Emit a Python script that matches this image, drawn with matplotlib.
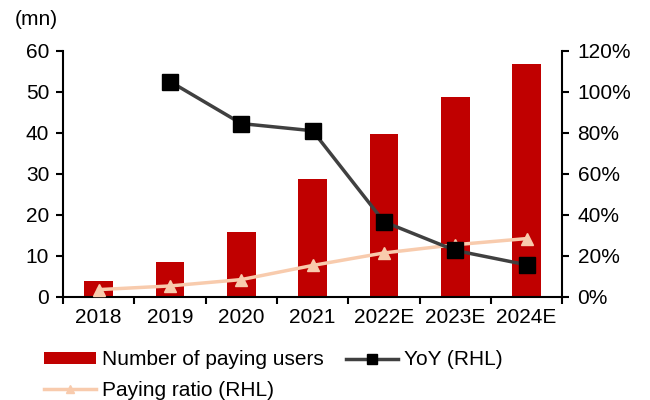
import matplotlib
matplotlib.use("Agg")
import matplotlib.pyplot as plt
import numpy as np
from matplotlib.ticker import FuncFormatter

plt.rcParams['font.family'] = ['Liberation Sans', 'DejaVu Sans']
plt.rcParams['font.size'] = 15

years = ['2018', '2019', '2020', '2021', '2022E', '2023E', '2024E']
paying_users = [3.9, 8.5, 15.8, 28.8, 39.6, 48.8, 56.7]
yoy = [None, 105.0, 84.5, 81.0, 36.6, 22.6, 15.6]
paying_ratio = [3.5, 5.3, 8.4, 15.3, 21.4, 25.4, 28.4]

x = np.arange(len(years))

fig = plt.figure(figsize=(6.5, 4), dpi=100)
ax = fig.add_axes([0.097, 0.258, 0.768, 0.615])
ax2 = ax.twinx()

bars = ax.bar(x, paying_users, width=0.4, color='#C00000', zorder=2,
              label='Number of paying users')

yoy_x = [i for i, v in enumerate(yoy) if v is not None]
yoy_y = [v for v in yoy if v is not None]
l1, = ax2.plot(yoy_x, yoy_y, color='#404040', lw=2.5, marker='s',
               markersize=11, markerfacecolor='black', markeredgecolor='black',
               label='YoY (RHL)', zorder=4)
l2, = ax2.plot(x, paying_ratio, color='#F8CBAD', lw=2.5, marker='^',
               markersize=9, label='Paying ratio (RHL)', zorder=3)

ax.set_xlim(-0.5, len(years) - 0.5)
ax.set_ylim(0, 60)
ax.set_yticks(range(0, 61, 10))
ax2.set_ylim(0, 120)
ax2.set_yticks(range(0, 121, 20))
ax2.yaxis.set_major_formatter(FuncFormatter(lambda v, p: f'{v:.0f}%'))

# category labels in the middle, tick marks on the boundaries
ax.set_xticks(np.arange(-0.5, len(years), 1.0))
ax.set_xticklabels([])
ax.set_xticks(x, minor=True)
ax.set_xticklabels(years, minor=True)
ax.tick_params(axis='x', which='minor', length=0, pad=8)
ax.tick_params(axis='x', which='major', length=5, width=1.5, direction='out')
ax.tick_params(axis='y', length=5, width=1.5, direction='out', pad=5)
ax2.tick_params(axis='y', length=5, width=1.5, direction='out', pad=6)

for a in (ax, ax2):
    a.spines['top'].set_visible(False)
    a.spines['left'].set_linewidth(1.5)
    a.spines['right'].set_linewidth(1.5)
    a.spines['bottom'].set_linewidth(1.5)
ax.spines['right'].set_visible(False)
ax2.spines['left'].set_visible(False)
ax2.spines['bottom'].set_visible(False)

fig.text(0.022, 0.952, '(mn)', fontsize=15, va='center')

fig.legend([bars, l2, l1], ['Number of paying users', 'Paying ratio (RHL)', 'YoY (RHL)'],
           loc='upper left', bbox_to_anchor=(0.055, 0.145), ncol=2, frameon=False,
           handlelength=2.5, handleheight=0.5, handletextpad=0.3, columnspacing=1.05,
           labelspacing=0.55, borderaxespad=0, fontsize=15, markerscale=0.7)

fig.savefig('out.png', dpi=100)
